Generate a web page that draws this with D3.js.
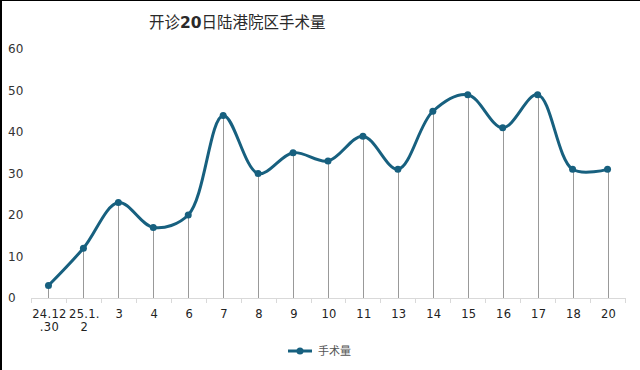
<!DOCTYPE html>
<html>
<head>
    <meta charset="utf-8">
    <style>
        body { margin: 0; background: #fff; }
        svg { display: block; }
        text { font-family: "DejaVu Sans", "Noto Sans CJK SC", sans-serif; }
    </style>
</head>
<body>
    <div id="container"></div>
    <script src="https://d3js.org/d3.v7.min.js"></script>
    <script>
        // data
        const categories = ["24.12.30", "25.1.2", "3", "4", "6", "7", "8", "9", "10", "11", "13", "14", "15", "16", "17", "18", "20"];
        const categoryLines = [["24.12", ".30"], ["25.1.", "2"]];
        const values = [3, 12, 23, 17, 20, 44, 30, 35, 33, 39, 31, 45, 49, 41, 49, 31, 31];
        const yTicks = [0, 10, 20, 30, 40, 50, 60];
        const seriesName = "手术量";

        const width = 640, height = 370;
        const lineColor = "#17607f";

        const svg = d3.select("#container").append("svg")
            .attr("width", width)
            .attr("height", height);

        // frame on top and left
        svg.append("line").attr("x1", 0).attr("x2", width).attr("y1", 0.5).attr("y2", 0.5)
            .attr("stroke", "#000").attr("stroke-width", 1);
        svg.append("line").attr("x1", 1).attr("x2", 1).attr("y1", 0).attr("y2", height)
            .attr("stroke", "#000").attr("stroke-width", 2);

        const x = d3.scaleBand().domain(categories).range([31, 625]);
        const y = d3.scaleLinear().domain([0, 60]).range([298, 49]);

        // title
        const title = svg.append("text")
            .attr("x", 149).attr("y", 28)
            .attr("font-size", 15.5)
            .attr("fill", "#2a2a2a");
        title.append("tspan").attr("font-family", "Noto Sans CJK SC").text("开诊");
        title.append("tspan").attr("font-weight", "bold").text("20");
        title.append("tspan").attr("font-family", "Noto Sans CJK SC").text("日陆港院区手术量");

        // y labels
        svg.append("g").selectAll("text")
            .data(yTicks)
            .join("text")
            .attr("x", 8)
            .attr("y", d => y(d) + 4)
            .attr("font-size", 12)
            .attr("fill", "#333")
            .text(d => d);

        // x axis
        const xAxis = svg.append("g")
            .attr("transform", "translate(0,298)")
            .call(d3.axisBottom(x).tickSize(0).tickFormat(""));
        xAxis.select(".domain").attr("stroke", "#d9d9d9").attr("stroke-width", 1);
        const bounds = categories.map(c => x(c)).concat([x.range()[1]]);
        xAxis.selectAll(".bound")
            .data(bounds)
            .join("line")
            .attr("class", "bound")
            .attr("x1", d => Math.round(d) + 0.5).attr("x2", d => Math.round(d) + 0.5)
            .attr("y1", 0).attr("y2", 5)
            .attr("stroke", "#d9d9d9");

        // x labels
        svg.append("g").selectAll("text")
            .data(categories)
            .join("text")
            .attr("x", d => x(d) + x.bandwidth() / 2)
            .attr("y", 318)
            .attr("text-anchor", "middle")
            .attr("font-size", 11.5)
            .attr("letter-spacing", 0.3)
            .attr("fill", "#222")
            .each(function (d, i) {
                const lines = i < categoryLines.length ? categoryLines[i] : [d];
                d3.select(this).selectAll("tspan")
                    .data(lines)
                    .join("tspan")
                    .attr("x", x(d) + x.bandwidth() / 2 + 1)
                    .attr("dy", (l, j) => j === 0 ? 0 : 13)
                    .text(l => l);
            });

        const cx = (d, i) => x(categories[i]) + x.bandwidth() / 2;

        // drop lines
        svg.append("g").selectAll("line")
            .data(values)
            .join("line")
            .attr("x1", (d, i) => Math.round(cx(d, i)) + 0.5)
            .attr("x2", (d, i) => Math.round(cx(d, i)) + 0.5)
            .attr("y1", d => y(d))
            .attr("y2", 298)
            .attr("stroke", "#999")
            .attr("stroke-width", 1);

        // smooth line
        const line = d3.line()
            .x(cx)
            .y(d => y(d))
            .curve(d3.curveCatmullRom.alpha(0.5));

        svg.append("path")
            .datum(values)
            .attr("d", line)
            .attr("fill", "none")
            .attr("stroke", lineColor)
            .attr("stroke-width", 3);

        svg.append("g").selectAll("circle")
            .data(values)
            .join("circle")
            .attr("cx", cx)
            .attr("cy", d => y(d))
            .attr("r", 3.5)
            .attr("fill", lineColor);

        // legend
        const legend = svg.append("g").attr("transform", "translate(288,351)");
        legend.append("line").attr("x1", 0).attr("x2", 24).attr("y1", 0).attr("y2", 0)
            .attr("stroke", lineColor).attr("stroke-width", 3);
        legend.append("circle").attr("cx", 12).attr("cy", 0).attr("r", 3.5).attr("fill", lineColor);
        legend.append("text").attr("x", 30).attr("y", 4)
            .attr("font-size", 11)
            .attr("font-family", "Noto Sans CJK SC")
            .attr("fill", "#555")
            .text(seriesName);
    </script>
</body>
</html>
